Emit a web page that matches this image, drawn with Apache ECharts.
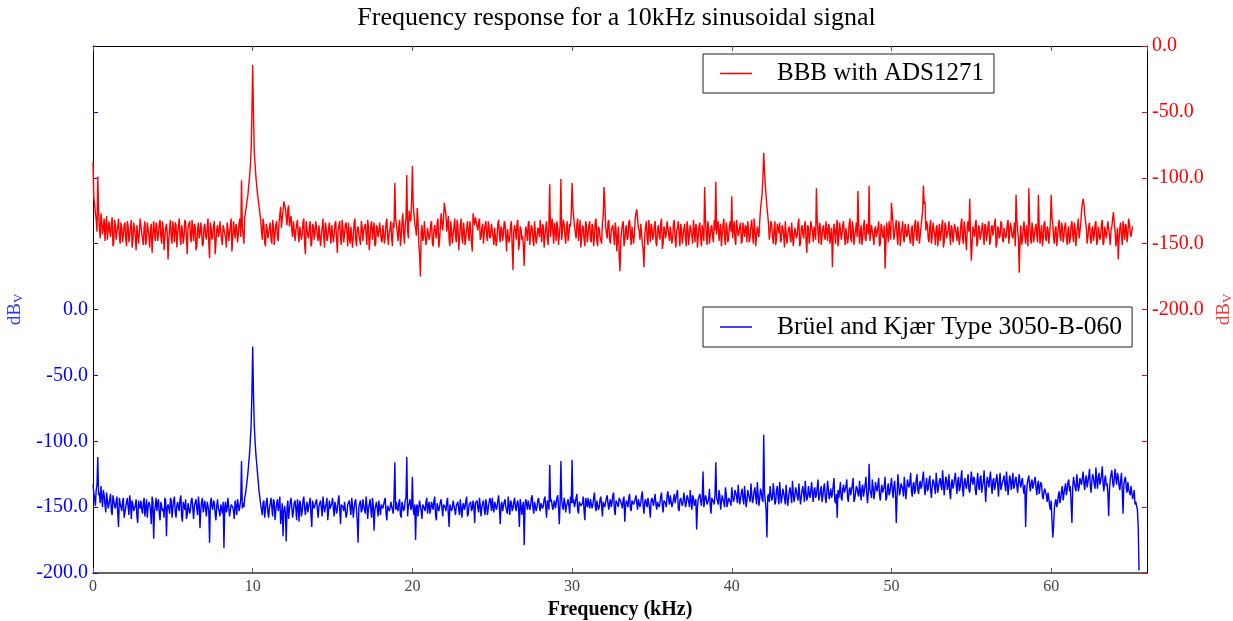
<!DOCTYPE html>
<html>
<head>
<meta charset="utf-8">
<script src="https://cdn.jsdelivr.net/npm/echarts@6/dist/echarts.min.js"></script>
<style>html,body{margin:0;padding:0;background:#fff}#c{width:1233px;height:621px}</style>
</head>
<body>
<div id="c"></div>
<script>
const FONT = "'Liberation Serif','Times New Roman',serif";
const FREQ_STEP = 0.1;   // kHz between samples of the *Noise arrays (start 0.00)
const MID_OFFSET = 0.05; // the *Mid arrays sit halfway between them (start 0.05)
const titleText = 'Frequency response for a 10kHz sinusoidal signal';
const redName = 'BBB with ADS1271';
const blueName = 'Brüel and Kjær Type 3050-B-060';

// BBB with ADS1271 (dBV, right axis), one row = 1 kHz, samples at k.0 .. k.9
const redNoise = [
-88,-120,-132,-140,-138,-127,-143,-131,-136,-147,
-133,-145,-130,-149,-136,-141,-131,-150,-138,-144,
-134,-152,-137,-143,-132,-147,-139,-155,-135,-142,
-131,-146,-138,-151,-134,-144,-140,-157,-133,-148,
-137,-143,-132,-150,-139,-146,-135,-162,-138,-145,
-133,-149,-136,-142,-131,-151,-140,-145,-134,-158,
-139,-144,-132,-148,-137,-152,-134,-143,-140,-150,
-135,-147,-131,-161,-138,-144,-133,-149,-136,-142,
-132,-151,-139,-145,-134,-148,-137,-156,-133,-146,
-138,-143,-131,-140,-136,-130,-122,-113,-100,-80,
-14.5,-80,-99,-112,-122,-132,-147,-136,-152,-139,
-145,-134,-150,-137,-143,-133,-148,-128,-138,-125,
-119,-130,-124,-137,-129,-145,-134,-140,-132,-149,
-136,-143,-131,-158,-139,-146,-133,-150,-137,-142,
-132,-148,-135,-144,-131,-153,-138,-145,-134,-150,
-137,-143,-133,-157,-139,-146,-132,-149,-136,-141,
-134,-150,-138,-145,-131,-152,-137,-144,-133,-148,
-139,-143,-132,-155,-136,-147,-134,-150,-138,-142,
-133,-149,-137,-144,-131,-151,-139,-146,-134,-143,
-136,-148,-132,-145,-127,-150,-131,-140,-125,-133,
-112,-128,-138,-123,-150,-175,-136,-145,-132,-147,
-138,-144,-133,-152,-136,-146,-131,-148,-127,-140,
-119,-128,-135,-147,-133,-150,-138,-144,-132,-155,
-137,-145,-134,-151,-139,-143,-133,-149,-127,-136,
-129,-140,-131,-145,-135,-142,-133,-148,-138,-144,
-134,-151,-137,-146,-132,-149,-139,-143,-135,-156,
-138,-145,-133,-170,-136,-147,-132,-150,-139,-144,
-167,-137,-148,-133,-143,-138,-152,-134,-146,-140,
-132,-149,-137,-145,-133,-151,-139,-136,-142,-134,
-148,-138,-144,-133,-140,-135,-150,-133,-143,-137,
-118,-130,-141,-135,-148,-132,-145,-138,-152,-136,
-143,-133,-149,-137,-145,-131,-152,-139,-144,-134,
-125,-137,-146,-132,-150,-138,-143,-134,-156,-137,
-171,-141,-133,-148,-136,-145,-132,-151,-138,-143,
-127,-131,-140,-135,-150,-168,-137,-146,-132,-149,
-138,-144,-133,-152,-136,-147,-131,-150,-139,-142,
-134,-148,-137,-145,-132,-153,-138,-143,-135,-150,
-139,-146,-133,-151,-136,-144,-132,-149,-138,-145,
-134,-152,-137,-140,-143,-133,-150,-138,-145,-132,
-136,-136,-148,-135,-143,-131,-151,-138,-146,-133,
-139,-139,-147,-132,-144,-137,-150,-134,-145,-138,
-133,-149,-136,-143,-131,-152,-137,-145,-124,-112,
-81,-106,-122,-135,-141,-136,-150,-133,-146,-139,
-134,-147,-138,-153,-132,-144,-137,-149,-133,-145,
-139,-143,-131,-150,-136,-146,-133,-157,-138,-144,
-132,-149,-136,-140,-142,-134,-151,-138,-145,-133,
-148,-137,-144,-168,-135,-150,-132,-146,-139,-143,
-133,-151,-137,-145,-131,-149,-138,-144,-134,-140,
-150,-136,-145,-132,-148,-139,-138,-143,-135,-151,
-137,-144,-133,-150,-138,-146,-169,-134,-149,-140,
-135,-135,-146,-132,-151,-137,-144,-133,-149,-139,
-143,-134,-150,-136,-145,-132,-148,-138,-144,-131,
-118,-118,-133,-146,-137,-150,-134,-143,-138,-152,
-135,-144,-132,-149,-137,-145,-133,-151,-139,-143,
-134,-148,-136,-145,-131,-150,-138,-155,-133,-140,
-163,-137,-145,-132,-149,-138,-144,-134,-151,-137,
-143,-133,-148,-136,-145,-131,-150,-139,-144,-135,
-149,-137,-143,-132,-151,-138,-146,-134,-140,-140,
-172,-136,-147,-133,-150,-137,-140,-145,-134,-149,
-138,-144,-140,-150,-136,-146,-133,-148,-139,-143,
-135,-135,-150,-137,-145,-132,-148,-138,-144,-134,
-151,-137,-146,-133,-149,-138,-143,-131,-147,-126,
-116,-128,-138,-145,-134,-150,-137,-143,-133,-148,
-136,-144,-132,-149,-138,-145,-134,-151,-137,-126,
-140,-146,-162,-138,-144,-133,-147,-137,-143,-135,
-145,-137
];
// samples at k.05 .. k.95
const redMid = [
-115,-127,-141,-125,-146,-134,-137,-148,-129,-139,
-141,-135,-152,-132,-147,-137,-144,-134,-149,-136,
-146,-133,-149,-138,-153,-134,-145,-136,-150,-131,
-142,-151,-133,-147,-139,-153,-135,-144,-141,-134,
-148,-135,-145,-133,-155,-138,-142,-147,-132,-150,
-141,-134,-153,-137,-146,-136,-150,-132,-145,-138,
-133,-149,-140,-135,-155,-139,-146,-134,-152,-137,
-144,-138,-150,-134,-147,-136,-158,-139,-145,-133,
-147,-136,-143,-153,-138,-142,-131,-147,-140,-135,
-149,-134,-145,-137,-150,-126,-117,-106,-92,-60,
-60,-90,-106,-117,-127,-140,-131,-149,-135,-146,
-138,-147,-132,-151,-136,-145,-134,-122,-131,-118,
-124,-136,-121,-131,-140,-133,-148,-136,-144,-137,
-147,-134,-150,-133,-144,-137,-152,-135,-147,-133,
-144,-136,-152,-138,-145,-134,-148,-139,-143,-136,
-149,-135,-146,-140,-133,-151,-138,-143,-134,-152,
-145,-137,-153,-134,-147,-139,-143,-151,-137,-140,
-135,-151,-138,-146,-133,-140,-152,-136,-145,-134,
-147,-136,-150,-134,-145,-141,-133,-152,-138,-131,
-141,-137,-152,-134,-141,-136,-124,-146,-131,-118,
-120,-135,-144,-132,-158,-141,-148,-133,-151,-138,
-147,-135,-150,-140,-142,-134,-153,-137,-135,-131,
-124,-141,-129,-152,-140,-143,-131,-149,-137,-145,
-131,-150,-140,-145,-133,-148,-139,-156,-132,-130,
-137,-134,-147,-138,-150,-136,-144,-133,-146,-135,
-145,-138,-152,-135,-143,-137,-148,-133,-145,-139,
-149,-136,-153,-141,-140,-135,-155,-137,-147,-152,
-146,-141,-135,-151,-136,-147,-133,-150,-138,-145,
-141,-135,-153,-138,-146,-134,-145,-131,-150,-139,
-133,-151,-136,-147,-132,-144,-138,-148,-135,-126,
-123,-137,-146,-131,-141,-153,-136,-147,-133,-149,
-136,-147,-135,-152,-133,-148,-137,-145,-150,-129,
-119,-142,-134,-147,-140,-136,-151,-139,-145,-160,
-148,-135,-152,-139,-147,-134,-143,-137,-150,-131,
-124,-138,-147,-136,-155,-144,-133,-151,-140,-135,
-147,-136,-149,-140,-143,-135,-154,-137,-146,-133,
-143,-137,-150,-135,-146,-140,-133,-152,-139,-144,
-135,-152,-139,-143,-136,-150,-140,-135,-153,-137,
-146,-136,-148,-132,-151,-138,-144,-136,-149,-140,
-143,-133,-141,-152,-136,-146,-134,-149,-137,-141,
-146,-133,-151,-138,-142,-134,-148,-140,-136,-149,
-140,-145,-132,-150,-139,-144,-136,-133,-118,-100,
-95,-114,-128,-147,-133,-145,-139,-151,-135,-142,
-149,-136,-144,-133,-150,-139,-145,-134,-152,-138,
-146,-135,-152,-139,-143,-137,-148,-136,-150,-133,
-141,-137,-147,-133,-150,-138,-144,-136,-147,-141,
-135,-150,-138,-146,-141,-137,-152,-134,-147,-136,
-144,-138,-150,-135,-146,-133,-151,-140,-145,-136,
-142,-151,-137,-146,-135,-143,-148,-136,-145,-139,
-145,-138,-152,-135,-144,-136,-150,-141,-133,-147,
-128,-147,-137,-145,-133,-152,-139,-146,-135,-145,
-135,-147,-139,-152,-136,-144,-133,-150,-137,-125,
-120,-140,-136,-149,-132,-145,-139,-151,-136,-143,
-148,-136,-153,-134,-146,-139,-144,-136,-149,-135,
-142,-137,-151,-135,-146,-133,-148,-136,-141,-145,
-150,-141,-135,-152,-136,-147,-139,-143,-135,-148,
-136,-151,-138,-144,-135,-153,-137,-146,-133,-147,
-138,-146,-135,-150,-134,-144,-141,-152,-131,-147,
-146,-151,-138,-144,-136,-152,-134,-150,-139,-144,
-135,-149,-137,-143,-152,-135,-146,-137,-150,-134,
-130,-146,-139,-152,-136,-144,-134,-149,-137,-145,
-140,-150,-136,-143,-134,-152,-137,-146,-135,-119,
-120,-133,-150,-137,-146,-139,-148,-135,-151,-137,
-147,-135,-151,-137,-146,-133,-144,-139,-131,-135,
-152,-138,-147,-134,-151,-140,-135,-149,-131,-141,
-140
];
// narrow tones: [kHz, dBV]
const redSpikes = [
[0.3,-99],[9.3,-102],[9.95,-52],[10.05,-52],[18.9,-104],[19.65,-98],[20.0,-91],
[28.6,-105],[29.3,-101],[30.0,-104],[32.0,-107],[38.3,-107],[39.0,-103],[40.0,-114],
[42.0,-81],[45.3,-108],[47.9,-110],[48.6,-106],[50.0,-119],[52.0,-106],[54.9,-116],
[57.8,-113],[58.6,-108],[59.2,-113],[60.0,-113]
];

// Brüel and Kjær Type 3050-B-060 (dBV, left axis), one row = 1 kHz
const blueNoise = [
-133,-143,-137,-146,-139,-134,-150,-141,-154,-144,
-148,-140,-156,-145,-151,-142,-165,-147,-153,-143,
-157,-146,-150,-141,-159,-148,-152,-144,-162,-149,
-145,-155,-143,-151,-158,-146,-152,-142,-174,-149,
-153,-144,-160,-147,-151,-143,-172,-148,-155,-145,
-150,-142,-158,-146,-153,-141,-161,-149,-144,-156,
-147,-152,-143,-159,-148,-151,-142,-166,-146,-154,
-145,-157,-149,-177,-143,-152,-147,-160,-144,-153,
-148,-155,-181,-146,-151,-143,-158,-147,-153,-145,
-156,-148,-152,-147,-147,-143,-135,-124,-110,-88,
-28,-88,-110,-124,-138,-148,-156,-145,-152,-143,
-158,-147,-151,-144,-160,-148,-153,-142,-157,-172,
-149,-176,-145,-152,-143,-158,-147,-151,-144,-161,
-148,-153,-142,-156,-146,-150,-143,-165,-149,-152,
-144,-158,-147,-151,-142,-154,-148,-160,-145,-150,
-143,-157,-149,-152,-141,-163,-147,-153,-145,-155,
-148,-151,-143,-158,-146,-152,-177,-147,-154,-144,
-150,-142,-159,-148,-153,-143,-168,-149,-151,-145,
-156,-147,-152,-143,-160,-148,-151,-145,-155,-148,
-146,-153,-144,-158,-149,-151,-143,-157,-147,-152,
-145,-156,-175,-148,-151,-144,-159,-147,-153,-143,
-149,-155,-146,-152,-142,-160,-148,-150,-144,-157,
-147,-153,-143,-165,-149,-151,-145,-156,-148,-152,
-144,-158,-147,-150,-142,-155,-149,-153,-145,-162,
-148,-151,-143,-157,-147,-152,-144,-156,-150,-146,
-143,-154,-148,-150,-141,-163,-146,-152,-144,-149,
-142,-156,-147,-151,-143,-153,-145,-165,-148,-150,
-179,-144,-152,-146,-149,-141,-155,-147,-150,-143,
-153,-146,-149,-142,-158,-147,-151,-144,-152,-145,
-148,-141,-163,-146,-150,-143,-154,-147,-149,-142,
-150,-144,-147,-140,-155,-145,-149,-142,-160,-146,
-143,-151,-145,-148,-139,-153,-146,-150,-142,-157,
-145,-149,-141,-152,-144,-147,-139,-156,-146,-150,
-142,-148,-144,-161,-145,-150,-140,-153,-146,-149,
-141,-152,-145,-147,-138,-155,-144,-150,-142,-158,
-143,-149,-140,-152,-145,-147,-139,-154,-144,-150,
-138,-148,-142,-151,-140,-146,-137,-153,-143,-149,
-139,-150,-141,-146,-137,-152,-143,-148,-167,-144,
-140,-149,-138,-151,-143,-147,-136,-155,-142,-148,
-139,-145,-137,-152,-141,-147,-135,-150,-143,-146,
-135,-146,-137,-142,-133,-148,-139,-144,-134,-150,
-137,-143,-132,-147,-138,-142,-131,-149,-136,-144,
-133,-146,-173,-140,-134,-145,-132,-148,-137,-142,
-131,-147,-136,-143,-133,-149,-138,-141,-130,-146,
-135,-142,-132,-148,-137,-140,-130,-145,-134,-143,
-131,-146,-135,-141,-129,-145,-134,-142,-132,-147,
-130,-144,-136,-140,-128,-147,-158,-143,-131,-145,
-133,-139,-129,-146,-135,-141,-128,-144,-134,-140,
-130,-145,-133,-141,-127,-147,-132,-139,-129,-144,
-131,-138,-128,-145,-133,-140,-127,-143,-132,-139,
-128,-143,-130,-162,-125,-141,-132,-136,-127,-144,
-129,-135,-124,-142,-131,-137,-125,-140,-130,-134,
-123,-141,-128,-136,-126,-143,-129,-135,-124,-139,
-130,-134,-122,-141,-127,-137,-125,-144,-129,-133,
-124,-140,-127,-135,-122,-142,-128,-136,-125,-139,
-123,-133,-129,-141,-124,-137,-126,-134,-122,-146,
-127,-135,-123,-140,-128,-134,-125,-142,-124,-136,
-129,-133,-123,-141,-126,-137,-124,-134,-127,-139,
-125,-135,-128,-140,-165,-132,-126,-138,-129,-136,
-127,-141,-130,-135,-133,-144,-136,-141,-139,-149,
-145,-173,-151,-144,-147,-138,-143,-134,-140,-132,
-137,-129,-134,-162,-127,-135,-125,-138,-128,-133,
-123,-137,-126,-131,-121,-139,-125,-133,-120,-136,
-124,-130,-119,-138,-126,-132,-157,-129,-122,-135,
-121,-133,-127,-137,-124,-155,-129,-135,-131,-139,
-134,-144,-137,-146,-152,-198
];
const blueMid = [
-139,-149,-133,-141,-147,-143,-137,-148,-139,-151,
-144,-153,-141,-149,-146,-155,-143,-150,-146,-158,
-150,-143,-156,-147,-145,-153,-149,-157,-145,-151,
-152,-147,-157,-144,-150,-148,-163,-146,-153,-143,
-147,-155,-146,-153,-158,-145,-150,-151,-143,-158,
-145,-154,-149,-150,-144,-157,-146,-152,-159,-147,
-155,-145,-151,-149,-144,-156,-148,-152,-143,-149,
-152,-146,-153,-147,-150,-145,-155,-149,-151,-157,
-151,-146,-150,-154,-143,-157,-148,-150,-159,-149,
-144,-153,-145,-151,-150,-140,-130,-117,-100,-70,
-70,-100,-117,-131,-143,-152,-147,-158,-146,-154,
-150,-143,-157,-146,-152,-144,-149,-163,-147,-153,
-155,-151,-159,-146,-150,-153,-145,-160,-149,-145,
-157,-145,-151,-149,-154,-147,-156,-145,-151,-146,
-152,-149,-145,-157,-148,-150,-143,-153,-151,-147,
-151,-146,-155,-145,-152,-148,-150,-146,-158,-148,
-145,-156,-149,-151,-144,-161,-150,-145,-152,-149,
-155,-148,-151,-144,-158,-149,-152,-146,-157,-151,
-148,-151,-145,-155,-149,-153,-146,-152,-143,-152,
-151,-147,-156,-146,-153,-145,-150,-149,-144,-150,
-152,-148,-150,-157,-145,-153,-148,-151,-146,-155,
-146,-151,-149,-145,-156,-147,-153,-146,-151,-148,
-150,-146,-155,-148,-153,-145,-152,-149,-146,-156,
-151,-149,-152,-145,-157,-148,-146,-151,-150,-147,
-145,-154,-149,-150,-145,-156,-148,-151,-143,-153,
-150,-146,-152,-145,-151,-148,-153,-146,-150,-155,
-149,-145,-153,-146,-150,-147,-151,-144,-156,-146,
-150,-147,-145,-152,-143,-151,-146,-153,-145,-149,
-147,-151,-144,-150,-145,-152,-146,-149,-147,-151,
-143,-150,-147,-145,-152,-146,-149,-144,-155,-147,
-147,-150,-143,-152,-146,-149,-147,-153,-143,-150,
-148,-144,-151,-143,-149,-145,-152,-144,-149,-146,
-150,-143,-148,-146,-150,-141,-152,-145,-148,-143,
-146,-151,-142,-149,-147,-143,-151,-145,-148,-144,
-147,-144,-150,-141,-149,-146,-148,-143,-151,-145,
-146,-144,-148,-146,-150,-142,-149,-145,-147,-141,
-145,-141,-150,-144,-147,-140,-151,-145,-142,-146,
-144,-147,-143,-150,-145,-141,-149,-144,-150,-142,
-145,-142,-150,-141,-148,-144,-149,-143,-146,-140,
-143,-148,-141,-146,-144,-150,-140,-147,-142,-149,
-141,-144,-139,-147,-141,-143,-136,-148,-142,-145,
-141,-146,-140,-144,-135,-148,-141,-143,-139,-146,
-139,-152,-142,-146,-140,-143,-139,-146,-134,-148,
-140,-142,-137,-148,-141,-144,-135,-147,-139,-142,
-138,-145,-140,-143,-134,-146,-139,-142,-140,-137,
-140,-137,-143,-135,-145,-138,-146,-136,-142,-139,
-137,-140,-143,-134,-145,-140,-137,-138,-143,-136,
-139,-134,-143,-137,-141,-133,-146,-139,-136,-142,
-138,-135,-142,-133,-140,-139,-137,-143,-135,-139,
-136,-133,-141,-137,-139,-134,-145,-136,-141,-133,
-137,-134,-140,-142,-133,-138,-131,-142,-135,-137,
-133,-131,-138,-133,-140,-129,-137,-133,-136,-128,
-134,-133,-138,-130,-137,-134,-131,-140,-132,-134,
-128,-137,-131,-134,-129,-133,-139,-132,-136,-128,
-133,-130,-138,-128,-136,-131,-134,-130,-137,-131,
-130,-127,-137,-131,-134,-128,-139,-131,-135,-133,
-131,-128,-134,-130,-137,-129,-133,-130,-137,-131,
-126,-138,-131,-134,-129,-131,-136,-129,-134,-131,
-132,-130,-136,-133,-141,-129,-134,-131,-136,-130,
-135,-133,-140,-131,-142,-138,-139,-146,-143,-152,
-160,-165,-146,-150,-141,-147,-137,-145,-136,-141,
-131,-138,-148,-135,-132,-138,-131,-135,-131,-128,
-132,-129,-135,-127,-134,-130,-128,-136,-129,-127,
-133,-126,-132,-129,-134,-140,-136,-125,-131,-128,
-129,-124,-134,-130,-138,-133,-127,-139,-136,-141,
-139,-141,-148,-145,-165
];
const blueSpikes = [
[0.3,-112],[9.3,-115],[9.95,-65],[10.05,-65],[18.9,-116],[19.65,-112],[20.0,-127],
[28.6,-118],[29.3,-115],[30.0,-114],[38.2,-123],[39.0,-116],[42.0,-95],[48.6,-117]
];

function buildSeries(noise, mid, spikes) {
  const r = x => Math.round(x * 100) / 100;
  const pts = noise.map((v, i) => [r(i * FREQ_STEP), v])
    .concat(mid.map((v, i) => [r(MID_OFFSET + i * FREQ_STEP), v]));
  spikes.forEach(([x, y]) => {
    const j = pts.findIndex(p => Math.abs(p[0] - x) < 1e-6);
    if (j >= 0) pts[j][1] = y; else pts.push([x, y]);
  });
  pts.sort((a, b) => a[0] - b[0]);
  return pts;
}

const chart = echarts.init(document.getElementById('c'), null, {renderer: 'canvas'});
const legendBase = {
  orient: 'horizontal', left: 703, itemWidth: 32, itemHeight: 1.5,
  padding: [7, 10, 7, 17], borderColor: '#222', borderWidth: 1, borderRadius: 0,
  backgroundColor: '#fff', selectedMode: false,
  textStyle: {fontFamily: FONT, fontSize: 25, color: '#000', padding: [0, 0, 0, 20]}
};
chart.setOption({
  animation: false,
  backgroundColor: '#fff',
  title: {
    text: titleText, left: 'center', top: 0, padding: [5, 0, 5, 13],
    textStyle: {fontFamily: FONT, fontSize: 26, fontWeight: 'normal', color: '#000'}
  },
  legend: [
    Object.assign({}, legendBase, {top: 54, data: [{name: redName, icon: 'rect'}]}),
    Object.assign({}, legendBase, {top: 307, data: [{name: blueName, icon: 'rect'}],
      textStyle: Object.assign({}, legendBase.textStyle, {fontSize: 25.6})})
  ],
  grid: {left: 93, right: 86, top: 46, bottom: 48, containLabel: false, outerBoundsMode: 'none'},
  xAxis: [{
    type: 'value', min: 0, max: 66, interval: 10, position: 'bottom',
    name: 'Frequency (kHz)', nameLocation: 'middle', nameGap: 25,
    nameTextStyle: {fontFamily: FONT, fontSize: 20, fontWeight: 'bold', color: '#000'},
    axisLine: {onZero: false, lineStyle: {color: '#333', width: 1.5}},
    axisTick: {inside: true, length: 5, lineStyle: {color: '#555'}},
    axisLabel: {fontFamily: FONT, fontSize: 16, color: '#444', margin: 6, showMaxLabel: false},
    splitLine: {show: false}
  }, {
    type: 'value', min: 0, max: 66, interval: 10, position: 'top',
    axisLine: {onZero: false, lineStyle: {color: '#000', width: 1}},
    axisTick: {inside: true, length: 5, lineStyle: {color: '#555'}},
    axisLabel: {show: false}, splitLine: {show: false}
  }],
  yAxis: [{
    type: 'value', min: -200, max: 200, interval: 50, position: 'left',
    name: '{a|dB}{b|V}', nameLocation: 'middle', nameGap: 61, nameRotate: 90,
    nameTextStyle: {color: '#0000ff', rich: {
      a: {fontFamily: FONT, fontSize: 19, color: '#3333ff'},
      b: {fontFamily: FONT, fontSize: 13, color: '#3333ff', padding: [8, 0, 0, 0]}
    }},
    axisLine: {show: true, onZero: false, lineStyle: {color: '#000'}},
    axisTick: {show: true, inside: true, length: 5, lineStyle: {color: '#0000ff'}},
    axisLabel: {fontFamily: FONT, fontSize: 20, color: '#0000ff', margin: 5,
      formatter: v => (v <= 0 ? v.toFixed(1) : '')},
    splitLine: {show: false}
  }, {
    type: 'value', min: -400, max: 0, interval: 50, position: 'right',
    name: '{a|dB}{b|V}', nameLocation: 'middle', nameGap: 52, nameRotate: 90,
    nameTextStyle: {color: '#ff0000', rich: {
      a: {fontFamily: FONT, fontSize: 19, color: '#ff3333'},
      b: {fontFamily: FONT, fontSize: 13, color: '#ff3333', padding: [8, 0, 0, 0]}
    }},
    axisLine: {show: true, onZero: false, lineStyle: {color: '#000'}},
    axisTick: {show: true, inside: true, length: 5, lineStyle: {color: '#ff0000'}},
    axisLabel: {fontFamily: FONT, fontSize: 20, color: '#ff0000', margin: 5,
      formatter: v => (v >= -200 ? v.toFixed(1) : '')},
    splitLine: {show: false}
  }],
  series: [{
    name: redName, type: 'line', xAxisIndex: 0, yAxisIndex: 1,
    data: buildSeries(redNoise, redMid, redSpikes), symbol: 'none', showSymbol: false,
    lineStyle: {color: '#ff0000', width: 1.4}, itemStyle: {color: '#ff0000'},
    emphasis: {disabled: true}
  }, {
    name: blueName, type: 'line', xAxisIndex: 0, yAxisIndex: 0,
    data: buildSeries(blueNoise, blueMid, blueSpikes), symbol: 'none', showSymbol: false,
    lineStyle: {color: '#0000ff', width: 1.4}, itemStyle: {color: '#0000ff'},
    emphasis: {disabled: true}
  }]
});
</script>
</body>
</html>
